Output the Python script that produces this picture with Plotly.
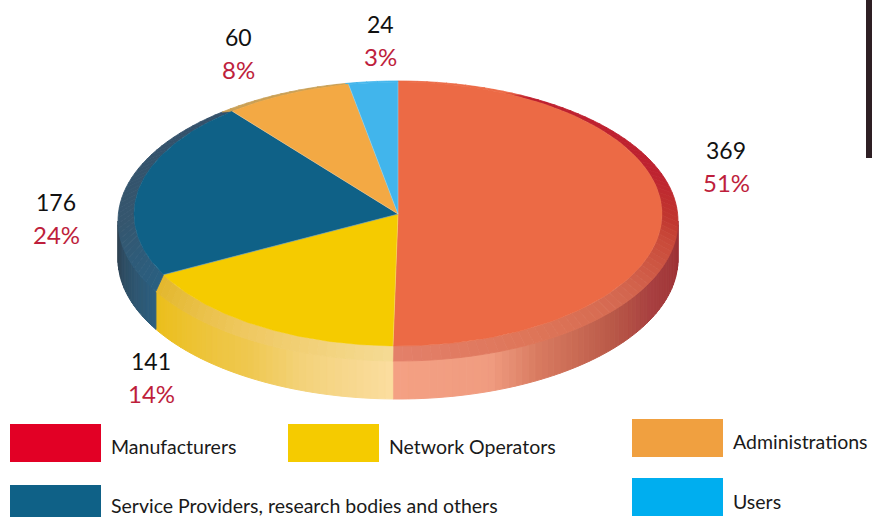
import math
import plotly.graph_objects as go

# ---- data ----
categories = ["Manufacturers", "Network Operators", "Service Providers, research bodies and others", "Administrations", "Users"]
counts = [369, 141, 176, 60, 24]
percent_labels = ["51%", "14%", "24%", "8%", "3%"]
drawn_share = [50.3, 17.1, 21.8, 7.8, 3.0]   # share of the circle each slice occupies as drawn

face_colors = ["#EC6A45", "#F5CB00", "#0F6187", "#F3A944", "#41B5EC"]
legend_colors = ["#E20025", "#F5CB00", "#0F6187", "#F0A040", "#00AEEF"]
rim_stops = [
    [(0, "#EC6A45"), (24, "#EC6A45"), (28, "#BE1E2D"), (70, "#BE2230"), (90, "#C0352F"), (100, "#C94A3A"), (125, "#D46850"), (150, "#DE7558"), (181, "#E3806A")],
    [(181, "#F5DB95"), (215, "#EFC860"), (243, "#E3B72B")],
    [(243, "#2A5F80"), (270, "#35566E"), (321, "#33506A")],
    [(321, "#C9A055"), (349, "#C9A055")],
    [(349, "#41B5EC"), (360, "#41B5EC")],
]
wall_stops = [
    [(90, "#9B2F33"), (116, "#A84040"), (131, "#BA5A48"), (150, "#D87A60"), (161, "#F09C80"), (181, "#F4A083")],
    [(181, "#FBDDA0"), (200, "#F3D27A"), (212, "#EFC850"), (240, "#EBBE1A")],
    [(240, "#2D5F7F"), (270, "#2F4252")],
]
rim_boundary_shift = [0, 0, -2.8, 0, 0, 0]

FONT = "Lato"
W, H = 872, 517
CX, FACE_CY, FACE_RX, FACE_RY = 398, 214, 264, 132
RIM_CY, RIM_RX, RIM_RY = 221, 280, 140
DEPTH = 38


def hex2rgb(c):
    return tuple(int(c[i:i + 2], 16) for i in (1, 3, 5))


def colour_at(stops, t):
    if t <= stops[0][0]:
        return stops[0][1]
    for (a, ca), (b, cb) in zip(stops, stops[1:]):
        if t <= b:
            f = (t - a) / (b - a)
            ra, rb = hex2rgb(ca), hex2rgb(cb)
            return "rgb(%d,%d,%d)" % tuple(round(x + (y - x) * f) for x, y in zip(ra, rb))
    return stops[-1][1]


def ell(t, cy, rx, ry):
    r = math.radians(t)
    return CX + rx * math.sin(r), cy - ry * math.cos(r)


def arc(t0, t1, cy, rx, ry, n=60):
    return [ell(t0 + (t1 - t0) * i / n, cy, rx, ry) for i in range(n + 1)]


def poly(pts, fill, line=None, width=1.0):
    xs = [p[0] for p in pts] + [pts[0][0]]
    ys = [p[1] for p in pts] + [pts[0][1]]
    return go.Scatter(x=xs, y=ys, mode="lines", fill="toself", fillcolor=fill,
                      line=dict(color=line or fill, width=width),
                      hoverinfo="skip", showlegend=False)


total = sum(drawn_share)
bounds = [0.0]
for s in drawn_share:
    bounds.append(bounds[-1] + s / total * 360)

fig = go.Figure()

# side wall, drawn in thin strips for the shading
for i, stops in enumerate(wall_stops):
    t0 = max(bounds[i] + rim_boundary_shift[i], 90)
    t1 = min(bounds[i + 1] + rim_boundary_shift[i + 1], 270)
    n = max(2, int((t1 - t0) / 1.5))
    for k in range(n):
        a = t0 + (t1 - t0) * k / n
        b = t0 + (t1 - t0) * (k + 1) / n
        top = arc(a, b, RIM_CY, RIM_RX, RIM_RY, 2)
        bot = arc(b, a, RIM_CY + DEPTH, RIM_RX, RIM_RY, 2)
        fig.add_trace(poly(top + bot, colour_at(stops, (a + b) / 2), width=1.0))

# bevelled rim between the outer ellipse and the face
for i, stops in enumerate(rim_stops):
    t0, t1 = bounds[i], bounds[i + 1]
    o0 = t0 + rim_boundary_shift[i]
    o1 = t1 + rim_boundary_shift[i + 1]
    n = max(2, int((t1 - t0) / 2))
    for k in range(n):
        a = t0 + (t1 - t0) * k / n
        b = t0 + (t1 - t0) * (k + 1) / n
        oa = o0 + (o1 - o0) * k / n
        ob = o0 + (o1 - o0) * (k + 1) / n
        outer = arc(oa, ob, RIM_CY, RIM_RX, RIM_RY, 2)
        inner = arc(b, a, FACE_CY, FACE_RX, FACE_RY, 2)
        fig.add_trace(poly(outer + inner, colour_at(stops, (a + b) / 2), width=0.8))

# top face
for i, col in enumerate(face_colors):
    pts = [(CX, FACE_CY)] + arc(bounds[i], bounds[i + 1], FACE_CY, FACE_RX, FACE_RY, 90)
    fig.add_trace(poly(pts, col, width=0.4))

# faint light spokes between the slices
for t in bounds[:-1]:
    ex, ey = ell(t, FACE_CY, FACE_RX, FACE_RY)
    fig.add_trace(go.Scatter(x=[CX, ex], y=[FACE_CY, ey], mode="lines", hoverinfo="skip", showlegend=False,
                             line=dict(color="rgba(255,255,255,0.4)", width=0.6)))

# value labels around the pie
label_pos = [(726, 150), (151, 361), (56, 202), (238, 37), (380, 24)]
annotations = []
for (x, y), c, p in zip(label_pos, counts, percent_labels):
    annotations.append(dict(x=x, y=y, text=str(c), showarrow=False, xanchor="center", yanchor="middle",
                            font=dict(family=FONT, size=23, color="#111111")))
    annotations.append(dict(x=x, y=y + 32, text=p, showarrow=False, xanchor="center", yanchor="middle",
                            font=dict(family=FONT, size=24, color="#BE1E3C")))

# hand-placed legend
swatches = [(10, 424), (288, 424), (10, 485), (632, 419), (632, 478)]
text_pos = [(109, 446), (387, 446), (109, 505), (731, 441), (731, 501)]
shapes = []
for (x, y), col in zip(swatches, legend_colors):
    shapes.append(dict(type="rect", xref="x", yref="y", x0=x, x1=x + 91, y0=y, y1=y + 38,
                       fillcolor=col, line_width=0, layer="below"))
for (x, y), t in zip(text_pos, categories):
    annotations.append(dict(x=x, y=y, text=t, showarrow=False, xanchor="left", yanchor="middle",
                            font=dict(family=FONT, size=19.5, color="#1a1a1a")))

# dark bar at the top right edge
shapes.append(dict(type="rect", xref="x", yref="y", x0=866, x1=872, y0=0, y1=158,
                   fillcolor="#2E1F24", line_width=0))

fig.update_layout(
    width=W, height=H, margin=dict(l=0, r=0, t=0, b=0),
    paper_bgcolor="white", plot_bgcolor="white", showlegend=False,
    xaxis=dict(range=[0, W], visible=False, fixedrange=True),
    yaxis=dict(range=[H, 0], visible=False, fixedrange=True),
    shapes=shapes, annotations=annotations,
)
fig.write_html("out.html", config={"displayModeBar": False},
               post_script="document.body.style.margin='0';document.body.style.overflow='hidden';")
